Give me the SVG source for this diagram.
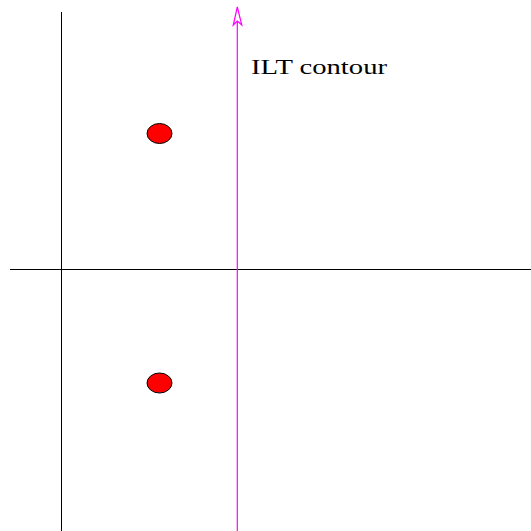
<svg xmlns="http://www.w3.org/2000/svg" width="531" height="531" viewBox="0 0 531 531">
<style>
.axis{stroke:#000;stroke-width:1;fill:none}
.contour{stroke:#ff00ff;stroke-width:1.2;fill:none}
.pole{fill:#ff0000;stroke:#000;stroke-width:1}
.lbl{font-family:"Liberation Serif","Times New Roman",serif;font-size:22px;fill:#000}
</style>
<rect width="531" height="531" fill="#fff"/>
<g id="connectors">
<line class="axis" x1="10" y1="269.5" x2="531" y2="269.5"/>
<line class="axis" x1="61.5" y1="12" x2="61.5" y2="531"/>
<line class="contour" x1="237.3" y1="531" x2="237.3" y2="21"/>
<path d="M233.3,25 L237.3,7 L241.8,25 L237.3,21 Z" fill="#fff" stroke="#ff00ff" stroke-width="1.2" stroke-linejoin="miter"/>
</g>
<g id="pole1"><ellipse class="pole" cx="159.5" cy="133.5" rx="12.5" ry="10"/></g>
<g id="pole2"><ellipse class="pole" cx="159.5" cy="383" rx="12.5" ry="10"/></g>
<g id="label"><text class="lbl" x="251" y="74" textLength="136" lengthAdjust="spacingAndGlyphs">ILT contour</text></g>
</svg>
